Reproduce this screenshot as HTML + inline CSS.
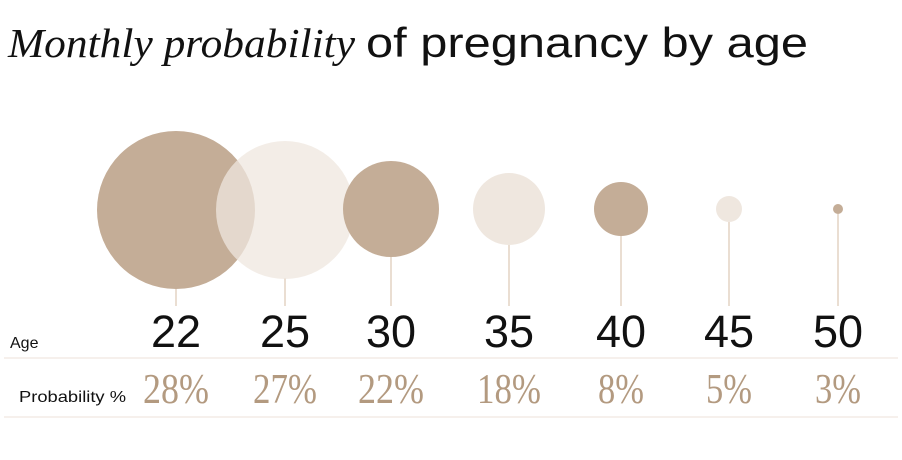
<!DOCTYPE html>
<html><head><style>
body{margin:0;background:#fff;width:902px;height:455px;overflow:hidden}
</style></head><body>
<svg width="902" height="455" xmlns="http://www.w3.org/2000/svg">
<text x="8" y="57" font-size="41" font-family="Liberation Serif, serif" font-style="italic" fill="#111" textLength="347" lengthAdjust="spacingAndGlyphs">Monthly probability</text>
<text x="366" y="57" font-size="42" font-family="Liberation Sans, sans-serif" fill="#111" textLength="442" lengthAdjust="spacingAndGlyphs">of pregnancy by age</text>
<g stroke="#e3d3c3" stroke-width="1.5">
<line x1="176" y1="280" x2="176" y2="306"/>
<line x1="285" y1="278" x2="285" y2="306"/>
<line x1="391" y1="256" x2="391" y2="306"/>
<line x1="509" y1="245" x2="509" y2="306"/>
<line x1="621" y1="236" x2="621" y2="306"/>
<line x1="729" y1="222" x2="729" y2="306"/>
<line x1="838" y1="214" x2="838" y2="306"/>
</g>
<circle cx="176" cy="210" r="79" fill="#c4ad97"/>
<circle cx="285" cy="210" r="69" fill="#efe7df" fill-opacity="0.75"/>
<circle cx="391" cy="209" r="48" fill="#c4ad97"/>
<circle cx="509" cy="209" r="36" fill="#efe7df"/>
<circle cx="621" cy="209" r="27" fill="#c4ad97"/>
<circle cx="729" cy="209" r="13" fill="#efe7df"/>
<circle cx="838" cy="209" r="5" fill="#c4ad97"/>
<text x="10" y="348" font-size="16" font-family="Liberation Sans, sans-serif" fill="#111">Age</text>
<g font-size="45" font-family="Liberation Sans, sans-serif" fill="#111" text-anchor="middle">
<text x="176" y="347">22</text><text x="285" y="347">25</text><text x="391" y="347">30</text><text x="509" y="347">35</text><text x="621" y="347">40</text><text x="729" y="347">45</text><text x="838" y="347">50</text>
</g>
<line x1="4" y1="358" x2="898" y2="358" stroke="#f3ece6" stroke-width="1.5"/>
<text x="19" y="402" font-size="16" font-family="Liberation Sans, sans-serif" fill="#111" textLength="107" lengthAdjust="spacingAndGlyphs">Probability %</text>
<g font-size="42" font-family="Liberation Serif, serif" fill="#b39a80" text-anchor="middle">
<text x="176" y="403" textLength="66" lengthAdjust="spacingAndGlyphs">28%</text>
<text x="285" y="403" textLength="64" lengthAdjust="spacingAndGlyphs">27%</text>
<text x="391" y="403" textLength="66" lengthAdjust="spacingAndGlyphs">22%</text>
<text x="509" y="403" textLength="64" lengthAdjust="spacingAndGlyphs">18%</text>
<text x="621" y="403" textLength="46" lengthAdjust="spacingAndGlyphs">8%</text>
<text x="729" y="403" textLength="46" lengthAdjust="spacingAndGlyphs">5%</text>
<text x="838" y="403" textLength="46" lengthAdjust="spacingAndGlyphs">3%</text>
</g>
<line x1="4" y1="417" x2="898" y2="417" stroke="#f3ece6" stroke-width="1.5"/>
</svg>
</body></html>
